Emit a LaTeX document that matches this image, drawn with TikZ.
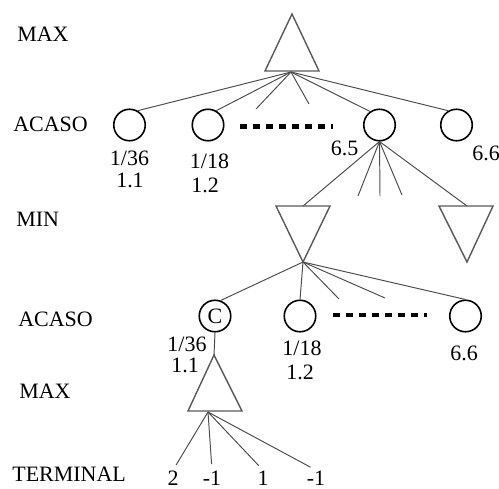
\documentclass[tikz,border=0pt]{standalone}
\usepackage{fontspec}
\setmainfont{Liberation Serif}
\begin{document}
\begin{tikzpicture}[x=0.02cm, y=-0.02cm,
  every node/.style={font=\fontsize{12.5}{15}\selectfont},
  chance/.style={circle, draw=black, line width=0.9pt, minimum size=0.63cm, inner sep=0pt},
  branch/.style={draw=black!70, line width=0.55pt},
  tri/.style={draw=black!65, line width=0.8pt, line join=miter},
  dots/.style={line width=2.3pt, dash pattern=on 4pt off 3.4pt},
  lvl/.style={anchor=base west, inner sep=0pt},
  val/.style={anchor=base, inner sep=0pt}]
  \useasboundingbox (0,0) rectangle (499,488);
  \def\rOne{125} \def\rTwo{316}
  % row labels
  \node[lvl] at (17,41) {MAX};
  \node[lvl] at (13,131) {ACASO};
  \node[lvl] at (16,226) {MIN};
  \node[lvl] at (18,326) {ACASO};
  \node[lvl] at (19,398) {MAX};
  \node[lvl] at (12,481) {TERMINAL};
  % triangles
  \draw[tri] (292,14) -- (265,71) -- (319,71) -- cycle;
  \draw[tri] (276,206) -- (330,206) -- (303,262) -- cycle;
  \draw[tri] (439,206) -- (493,206) -- (467,262) -- cycle;
  \draw[tri] (214,355) -- (188,411) -- (242,411) -- cycle;
  \coordinate (root) at (291,72);
  \coordinate (minAtop) at (303,206);
  \coordinate (minBtop) at (467,206);
  \coordinate (minA) at (303,262);
  \coordinate (maxtop) at (214,355);
  \coordinate (maxB) at (208,412);
  % chance nodes
  \node[chance] (a1) at (129.5,\rOne) {};
  \node[chance] (a2) at (208,\rOne) {};
  \node[chance] (a3) at (379.5,\rOne) {};
  \node[chance] (a4) at (456.5,\rOne) {};
  \node[chance] (b1) at (215,\rTwo) {C};
  \node[chance] (b2) at (300,\rTwo) {};
  \node[chance] (b3) at (465.5,\rTwo) {};
  \draw[dots] (240,126.5) -- (333,126.5);
  \draw[dots] (333,315) -- (427,315);
  % probabilities and values
  \node[val] at (129.5,165) {1/36};
  \node[val] at (130,187) {1.1};
  \node[val] at (209.5,168) {1/18};
  \node[val] at (205,192) {1.2};
  \node[val] at (344.5,155) {6.5};
  \node[val] at (486,160) {6.6};
  \node[val] at (187,351) {1/36};
  \node[val] at (185,372) {1.1};
  \node[val] at (302,355) {1/18};
  \node[val] at (300,379) {1.2};
  \node[val] at (464,360) {6.6};
  \node[val] (t1) at (173,485) {2};
  \node[val] (t2) at (212,485) {-1};
  \node[val] (t3) at (263,485) {1};
  \node[val] (t4) at (316,485) {-1};
  % branches
  \draw[branch] (root) -- (a1.60);
  \draw[branch] (root) -- (a2.60);
  \draw[branch] (root) -- (256,109);
  \draw[branch] (root) -- (309,104);
  \draw[branch] (root) -- (a3.125);
  \draw[branch] (root) -- (a4.120);
  \draw[branch] (a3.south) -- (minAtop);
  \draw[branch] (a3.south) -- (358,196);
  \draw[branch] (a3.south) -- (380,196);
  \draw[branch] (a3.south) -- (402,195);
  \draw[branch] (a3.south) -- (minBtop);
  \draw[branch] (minA) -- (b1.70);
  \draw[branch] (minA) -- (b2.north);
  \draw[branch] (minA) -- (339,299);
  \draw[branch] (minA) -- (385,298);
  \draw[branch] (minA) -- (b3.north);
  \draw[branch] (b1.south) -- (maxtop);
  \foreach \t in {t1,t2,t3,t4}
    \draw[branch, shorten >=3.5pt] (maxB) -- (\t.north);
\end{tikzpicture}
\end{document}
